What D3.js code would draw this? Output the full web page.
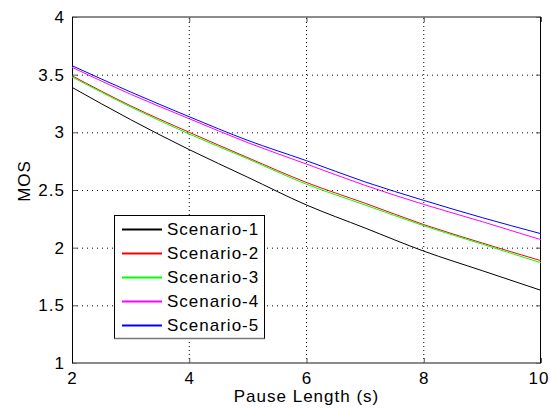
<!DOCTYPE html>
<html>
<head>
<meta charset="utf-8">
<script src="https://cdn.jsdelivr.net/npm/d3@7"></script>
<style>
  body { margin: 0; background: #fff; }
  text { font-family: "Liberation Sans", Arial, sans-serif; font-size: 16px; letter-spacing: 1px; fill: #000; }
</style>
</head>
<body>
<div id="chart"></div>
<script>
// pause length values (s)
const pause = [2, 3, 4, 5, 6, 7, 8, 9, 10];

// MOS for each scenario
const scenario1 = [3.39, 3.11, 2.85, 2.61, 2.37, 2.17, 1.97, 1.80, 1.63];
const scenario2 = [3.49, 3.23, 3.00, 2.78, 2.565, 2.385, 2.20, 2.04, 1.887];
const scenario3 = [3.48, 3.22, 2.985, 2.77, 2.55, 2.37, 2.19, 2.03, 1.869];
const scenario4 = [3.564, 3.33, 3.118, 2.91, 2.725, 2.54, 2.375, 2.225, 2.069];
const scenario5 = [3.578, 3.35, 3.135, 2.93, 2.754, 2.57, 2.41, 2.26, 2.121];

const seriesNames = ["Scenario-1", "Scenario-2", "Scenario-3", "Scenario-4", "Scenario-5"];
const seriesValues = [scenario1, scenario2, scenario3, scenario4, scenario5];
const seriesColors = ["#000000", "#ff0000", "#00ff00", "#ff00ff", "#0000ff"];

const xTicks = [2, 4, 6, 8, 10];
const yTicks = [1, 1.5, 2, 2.5, 3, 3.5, 4];

const width = 550;
const height = 409;
const margin = { top: 17, right: 9, bottom: 46, left: 72 };

const svg = d3.select("#chart")
  .append("svg")
  .attr("width", width)
  .attr("height", height);

const x = d3.scaleLinear()
  .domain([2, 10])
  .range([margin.left, width - margin.right]);

const y = d3.scaleLinear()
  .domain([1, 4])
  .range([height - margin.bottom, margin.top]);

const x0 = x.range()[0], x1 = x.range()[1];
const y0 = y.range()[0], y1 = y.range()[1];

// dotted grid
svg.append("g")
  .selectAll("line")
  .data(xTicks.slice(1, -1))
  .enter()
  .append("line")
  .attr("x1", d => x(d)).attr("x2", d => x(d))
  .attr("y1", y0).attr("y2", y1)
  .attr("stroke", "#000")
  .attr("stroke-width", 1)
  .attr("stroke-dasharray", "1,3");

svg.append("g")
  .selectAll("line")
  .data(yTicks.slice(1, -1))
  .enter()
  .append("line")
  .attr("y1", d => y(d) + 0.5).attr("y2", d => y(d) + 0.5)
  .attr("x1", x0).attr("x2", x1)
  .attr("stroke", "#000")
  .attr("stroke-width", 1)
  .attr("stroke-dasharray", "1,4");

// axes with inward ticks
const xAxis = svg.append("g")
  .attr("transform", `translate(0,${y0})`)
  .call(d3.axisBottom(x).tickValues(xTicks).tickSize(-5).tickPadding(9).tickFormat(d3.format("d")));
const xAxisTop = svg.append("g")
  .attr("transform", `translate(0,${y1})`)
  .call(d3.axisTop(x).tickValues(xTicks).tickSize(-5).tickFormat(""));
const yAxis = svg.append("g")
  .attr("transform", `translate(${x0},0)`)
  .call(d3.axisLeft(y).tickValues(yTicks).tickSize(-5).tickPadding(7).tickFormat(d3.format("")));
const yAxisRight = svg.append("g")
  .attr("transform", `translate(${x1},0)`)
  .call(d3.axisRight(y).tickValues(yTicks).tickSize(-5).tickFormat(""));

[xAxis, xAxisTop, yAxis, yAxisRight].forEach(g => {
  g.selectAll(".domain").remove();
  g.selectAll(".tick line").attr("stroke", "#555");
  g.selectAll("text").style("font-size", "17px").attr("fill", "#000");
});

// last x label would run past the window edge, keep it inside
xAxis.selectAll(".tick text")
  .filter(d => d === 10)
  .attr("text-anchor", "end")
  .attr("x", width - 1 - x1);

// box
svg.append("line").attr("x1", x0).attr("x2", x1).attr("y1", y1).attr("y2", y1)
  .attr("stroke", "#666").attr("stroke-width", 1.5);
svg.append("line").attr("x1", x0).attr("x2", x1).attr("y1", y0).attr("y2", y0)
  .attr("stroke", "#666").attr("stroke-width", 1.5);
svg.append("line").attr("x1", x0 + 0.5).attr("x2", x0 + 0.5).attr("y1", y1).attr("y2", y0)
  .attr("stroke", "#000").attr("stroke-width", 1);
svg.append("line").attr("x1", x1 - 0.5).attr("x2", x1 - 0.5).attr("y1", y1).attr("y2", y0)
  .attr("stroke", "#000").attr("stroke-width", 1);

// series
const line = d3.line()
  .x((d, i) => x(pause[i]))
  .y(d => y(d))
  .curve(d3.curveMonotoneX);

svg.append("g")
  .selectAll("path")
  .data(seriesValues)
  .enter()
  .append("path")
  .attr("d", d => line(d))
  .attr("fill", "none")
  .attr("stroke", (d, i) => seriesColors[i])
  .attr("stroke-width", 1);

// legend
const legendItems = seriesNames.map((name, i) => ({ name: name, color: seriesColors[i] }));

const legend = svg.append("g").attr("transform", "translate(114,215)");
legend.append("rect")
  .attr("x", 0.5).attr("y", 0.5)
  .attr("width", 150).attr("height", 123)
  .attr("fill", "#fff")
  .attr("stroke", "#000");
legend.append("line").attr("x1", 0.5).attr("x2", 150.5).attr("y1", 123.5).attr("y2", 123.5)
  .attr("stroke", "#777").attr("stroke-width", 1.5);

const rows = legend.selectAll("g.row")
  .data(legendItems)
  .enter()
  .append("g")
  .attr("class", "row")
  .attr("transform", (d, i) => `translate(0,${14 + i * 24})`);
rows.append("path")
  .attr("d", "M8,0.5H48")
  .attr("fill", "none")
  .style("stroke", d => d.color)
  .style("stroke-width", 2);
rows.append("text")
  .attr("x", 53)
  .attr("y", 6)
  .style("font-size", "17px")
  .attr("letter-spacing", "0.6px")
  .text(d => d.name);

// axis titles
svg.append("text")
  .attr("x", (x0 + x1) / 2)
  .attr("y", 402)
  .attr("text-anchor", "middle")
  .style("font-size", "17px")
  .attr("letter-spacing", "0.4px")
  .text("Pause Length (s)");

svg.append("text")
  .attr("transform", "translate(30,181) rotate(-90)")
  .attr("text-anchor", "middle")
  .style("font-size", "17px")
  .text("MOS");
</script>
</body>
</html>
